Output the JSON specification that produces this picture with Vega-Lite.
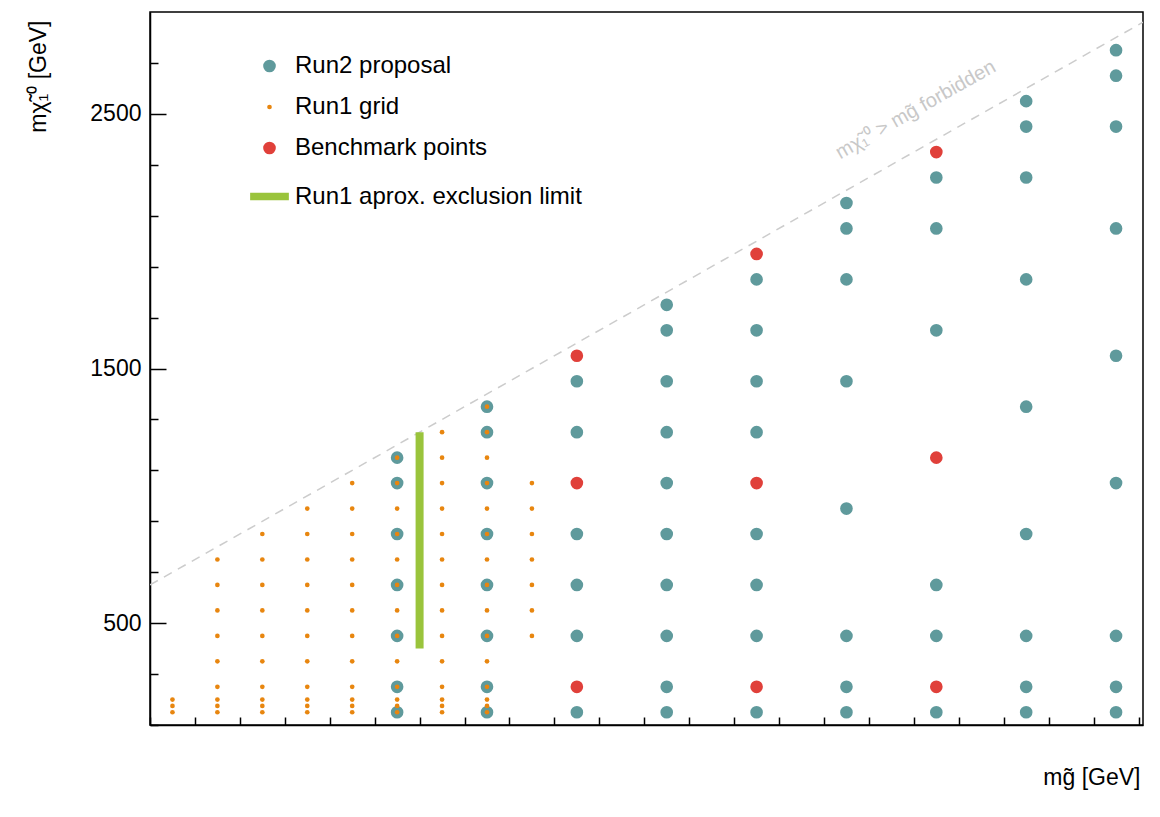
{
  "$schema": "https://vega.github.io/schema/vega-lite/v6.json",
  "width": 993,
  "height": 713,
  "autosize": {"type": "none"},
  "padding": {"left": 150, "top": 12, "right": 17, "bottom": 92},
  "background": "white",
  "config": {
    "view": {"stroke": "black", "strokeWidth": 1.5},
    "font": "Liberation Sans",
    "axis": {"domainColor": "black", "tickColor": "black", "labelColor": "black", "titleColor": "black",
      "labelFont": "Liberation Sans", "titleFont": "Liberation Sans", "labelFontSize": 23, "titleFontSize": 23,
      "titleFontWeight": "normal", "grid": false, "labelOverlap": false, "tickWidth": 1.5}
  },
  "datasets": {
    "pts": [
      {"series": "Run2 proposal", "mg": 1200, "mchi": 150}, {"series": "Run2 proposal", "mg": 1200, "mchi": 250}, {"series": "Run2 proposal", "mg": 1200, "mchi": 450}, {"series": "Run2 proposal", "mg": 1200, "mchi": 650}, {"series": "Run2 proposal", "mg": 1200, "mchi": 850}, {"series": "Run2 proposal", "mg": 1200, "mchi": 1050}, {"series": "Run2 proposal", "mg": 1200, "mchi": 1150},
      {"series": "Run2 proposal", "mg": 1400, "mchi": 150}, {"series": "Run2 proposal", "mg": 1400, "mchi": 250}, {"series": "Run2 proposal", "mg": 1400, "mchi": 450}, {"series": "Run2 proposal", "mg": 1400, "mchi": 650}, {"series": "Run2 proposal", "mg": 1400, "mchi": 850}, {"series": "Run2 proposal", "mg": 1400, "mchi": 1050}, {"series": "Run2 proposal", "mg": 1400, "mchi": 1250}, {"series": "Run2 proposal", "mg": 1400, "mchi": 1350},
      {"series": "Run2 proposal", "mg": 1600, "mchi": 150}, {"series": "Run2 proposal", "mg": 1600, "mchi": 450}, {"series": "Run2 proposal", "mg": 1600, "mchi": 650}, {"series": "Run2 proposal", "mg": 1600, "mchi": 850}, {"series": "Run2 proposal", "mg": 1600, "mchi": 1250}, {"series": "Run2 proposal", "mg": 1600, "mchi": 1450},
      {"series": "Run2 proposal", "mg": 1800, "mchi": 150}, {"series": "Run2 proposal", "mg": 1800, "mchi": 250}, {"series": "Run2 proposal", "mg": 1800, "mchi": 450}, {"series": "Run2 proposal", "mg": 1800, "mchi": 650}, {"series": "Run2 proposal", "mg": 1800, "mchi": 850}, {"series": "Run2 proposal", "mg": 1800, "mchi": 1050}, {"series": "Run2 proposal", "mg": 1800, "mchi": 1250}, {"series": "Run2 proposal", "mg": 1800, "mchi": 1450}, {"series": "Run2 proposal", "mg": 1800, "mchi": 1650}, {"series": "Run2 proposal", "mg": 1800, "mchi": 1750},
      {"series": "Run2 proposal", "mg": 2000, "mchi": 150}, {"series": "Run2 proposal", "mg": 2000, "mchi": 450}, {"series": "Run2 proposal", "mg": 2000, "mchi": 650}, {"series": "Run2 proposal", "mg": 2000, "mchi": 850}, {"series": "Run2 proposal", "mg": 2000, "mchi": 1250}, {"series": "Run2 proposal", "mg": 2000, "mchi": 1450}, {"series": "Run2 proposal", "mg": 2000, "mchi": 1650}, {"series": "Run2 proposal", "mg": 2000, "mchi": 1850},
      {"series": "Run2 proposal", "mg": 2200, "mchi": 150}, {"series": "Run2 proposal", "mg": 2200, "mchi": 250}, {"series": "Run2 proposal", "mg": 2200, "mchi": 450}, {"series": "Run2 proposal", "mg": 2200, "mchi": 950}, {"series": "Run2 proposal", "mg": 2200, "mchi": 1450}, {"series": "Run2 proposal", "mg": 2200, "mchi": 1850}, {"series": "Run2 proposal", "mg": 2200, "mchi": 2050}, {"series": "Run2 proposal", "mg": 2200, "mchi": 2150},
      {"series": "Run2 proposal", "mg": 2400, "mchi": 150}, {"series": "Run2 proposal", "mg": 2400, "mchi": 450}, {"series": "Run2 proposal", "mg": 2400, "mchi": 650}, {"series": "Run2 proposal", "mg": 2400, "mchi": 1650}, {"series": "Run2 proposal", "mg": 2400, "mchi": 2050}, {"series": "Run2 proposal", "mg": 2400, "mchi": 2250},
      {"series": "Run2 proposal", "mg": 2600, "mchi": 150}, {"series": "Run2 proposal", "mg": 2600, "mchi": 250}, {"series": "Run2 proposal", "mg": 2600, "mchi": 450}, {"series": "Run2 proposal", "mg": 2600, "mchi": 850}, {"series": "Run2 proposal", "mg": 2600, "mchi": 1350}, {"series": "Run2 proposal", "mg": 2600, "mchi": 1850}, {"series": "Run2 proposal", "mg": 2600, "mchi": 2250}, {"series": "Run2 proposal", "mg": 2600, "mchi": 2450}, {"series": "Run2 proposal", "mg": 2600, "mchi": 2550},
      {"series": "Run2 proposal", "mg": 2800, "mchi": 150}, {"series": "Run2 proposal", "mg": 2800, "mchi": 250}, {"series": "Run2 proposal", "mg": 2800, "mchi": 450}, {"series": "Run2 proposal", "mg": 2800, "mchi": 1050}, {"series": "Run2 proposal", "mg": 2800, "mchi": 1550}, {"series": "Run2 proposal", "mg": 2800, "mchi": 2050}, {"series": "Run2 proposal", "mg": 2800, "mchi": 2450}, {"series": "Run2 proposal", "mg": 2800, "mchi": 2650}, {"series": "Run2 proposal", "mg": 2800, "mchi": 2750},

      {"series": "Run1 grid", "mg": 700, "mchi": 150}, {"series": "Run1 grid", "mg": 700, "mchi": 175}, {"series": "Run1 grid", "mg": 700, "mchi": 200},
      {"series": "Run1 grid", "mg": 800, "mchi": 150}, {"series": "Run1 grid", "mg": 800, "mchi": 175}, {"series": "Run1 grid", "mg": 800, "mchi": 200}, {"series": "Run1 grid", "mg": 800, "mchi": 250}, {"series": "Run1 grid", "mg": 800, "mchi": 350}, {"series": "Run1 grid", "mg": 800, "mchi": 450}, {"series": "Run1 grid", "mg": 800, "mchi": 550}, {"series": "Run1 grid", "mg": 800, "mchi": 650}, {"series": "Run1 grid", "mg": 800, "mchi": 750},
      {"series": "Run1 grid", "mg": 900, "mchi": 150}, {"series": "Run1 grid", "mg": 900, "mchi": 175}, {"series": "Run1 grid", "mg": 900, "mchi": 200}, {"series": "Run1 grid", "mg": 900, "mchi": 250}, {"series": "Run1 grid", "mg": 900, "mchi": 350}, {"series": "Run1 grid", "mg": 900, "mchi": 450}, {"series": "Run1 grid", "mg": 900, "mchi": 550}, {"series": "Run1 grid", "mg": 900, "mchi": 650}, {"series": "Run1 grid", "mg": 900, "mchi": 750}, {"series": "Run1 grid", "mg": 900, "mchi": 850},
      {"series": "Run1 grid", "mg": 1000, "mchi": 150}, {"series": "Run1 grid", "mg": 1000, "mchi": 175}, {"series": "Run1 grid", "mg": 1000, "mchi": 200}, {"series": "Run1 grid", "mg": 1000, "mchi": 250}, {"series": "Run1 grid", "mg": 1000, "mchi": 350}, {"series": "Run1 grid", "mg": 1000, "mchi": 450}, {"series": "Run1 grid", "mg": 1000, "mchi": 550}, {"series": "Run1 grid", "mg": 1000, "mchi": 650}, {"series": "Run1 grid", "mg": 1000, "mchi": 750}, {"series": "Run1 grid", "mg": 1000, "mchi": 850}, {"series": "Run1 grid", "mg": 1000, "mchi": 950},
      {"series": "Run1 grid", "mg": 1100, "mchi": 150}, {"series": "Run1 grid", "mg": 1100, "mchi": 175}, {"series": "Run1 grid", "mg": 1100, "mchi": 200}, {"series": "Run1 grid", "mg": 1100, "mchi": 250}, {"series": "Run1 grid", "mg": 1100, "mchi": 350}, {"series": "Run1 grid", "mg": 1100, "mchi": 450}, {"series": "Run1 grid", "mg": 1100, "mchi": 550}, {"series": "Run1 grid", "mg": 1100, "mchi": 650}, {"series": "Run1 grid", "mg": 1100, "mchi": 750}, {"series": "Run1 grid", "mg": 1100, "mchi": 850}, {"series": "Run1 grid", "mg": 1100, "mchi": 950}, {"series": "Run1 grid", "mg": 1100, "mchi": 1050},
      {"series": "Run1 grid", "mg": 1200, "mchi": 150}, {"series": "Run1 grid", "mg": 1200, "mchi": 175}, {"series": "Run1 grid", "mg": 1200, "mchi": 200}, {"series": "Run1 grid", "mg": 1200, "mchi": 250}, {"series": "Run1 grid", "mg": 1200, "mchi": 350}, {"series": "Run1 grid", "mg": 1200, "mchi": 450}, {"series": "Run1 grid", "mg": 1200, "mchi": 550}, {"series": "Run1 grid", "mg": 1200, "mchi": 650}, {"series": "Run1 grid", "mg": 1200, "mchi": 750}, {"series": "Run1 grid", "mg": 1200, "mchi": 850}, {"series": "Run1 grid", "mg": 1200, "mchi": 950}, {"series": "Run1 grid", "mg": 1200, "mchi": 1050}, {"series": "Run1 grid", "mg": 1200, "mchi": 1150},
      {"series": "Run1 grid", "mg": 1300, "mchi": 150}, {"series": "Run1 grid", "mg": 1300, "mchi": 175}, {"series": "Run1 grid", "mg": 1300, "mchi": 200}, {"series": "Run1 grid", "mg": 1300, "mchi": 250}, {"series": "Run1 grid", "mg": 1300, "mchi": 350}, {"series": "Run1 grid", "mg": 1300, "mchi": 450}, {"series": "Run1 grid", "mg": 1300, "mchi": 550}, {"series": "Run1 grid", "mg": 1300, "mchi": 650}, {"series": "Run1 grid", "mg": 1300, "mchi": 750}, {"series": "Run1 grid", "mg": 1300, "mchi": 850}, {"series": "Run1 grid", "mg": 1300, "mchi": 950}, {"series": "Run1 grid", "mg": 1300, "mchi": 1050}, {"series": "Run1 grid", "mg": 1300, "mchi": 1150}, {"series": "Run1 grid", "mg": 1300, "mchi": 1250},
      {"series": "Run1 grid", "mg": 1400, "mchi": 150}, {"series": "Run1 grid", "mg": 1400, "mchi": 175}, {"series": "Run1 grid", "mg": 1400, "mchi": 200}, {"series": "Run1 grid", "mg": 1400, "mchi": 250}, {"series": "Run1 grid", "mg": 1400, "mchi": 350}, {"series": "Run1 grid", "mg": 1400, "mchi": 450}, {"series": "Run1 grid", "mg": 1400, "mchi": 550}, {"series": "Run1 grid", "mg": 1400, "mchi": 650}, {"series": "Run1 grid", "mg": 1400, "mchi": 750}, {"series": "Run1 grid", "mg": 1400, "mchi": 850}, {"series": "Run1 grid", "mg": 1400, "mchi": 950}, {"series": "Run1 grid", "mg": 1400, "mchi": 1050}, {"series": "Run1 grid", "mg": 1400, "mchi": 1150}, {"series": "Run1 grid", "mg": 1400, "mchi": 1250}, {"series": "Run1 grid", "mg": 1400, "mchi": 1350},
      {"series": "Run1 grid", "mg": 1500, "mchi": 450}, {"series": "Run1 grid", "mg": 1500, "mchi": 550}, {"series": "Run1 grid", "mg": 1500, "mchi": 650}, {"series": "Run1 grid", "mg": 1500, "mchi": 750}, {"series": "Run1 grid", "mg": 1500, "mchi": 850}, {"series": "Run1 grid", "mg": 1500, "mchi": 950}, {"series": "Run1 grid", "mg": 1500, "mchi": 1050},

      {"series": "Benchmark points", "mg": 1600, "mchi": 250}, {"series": "Benchmark points", "mg": 1600, "mchi": 1050}, {"series": "Benchmark points", "mg": 1600, "mchi": 1550},
      {"series": "Benchmark points", "mg": 2000, "mchi": 250}, {"series": "Benchmark points", "mg": 2000, "mchi": 1050}, {"series": "Benchmark points", "mg": 2000, "mchi": 1950},
      {"series": "Benchmark points", "mg": 2400, "mchi": 250}, {"series": "Benchmark points", "mg": 2400, "mchi": 1150}, {"series": "Benchmark points", "mg": 2400, "mchi": 2350}
    ]
  },
  "layer": [
    {
      "data": {"values": [{"mg": 650, "mchi": 650}, {"mg": 2860, "mchi": 2860}]},
      "mark": {"type": "line", "color": "#cccccc", "strokeWidth": 1.5, "strokeDash": [9, 7], "clip": true},
      "encoding": {
        "x": {"field": "mg", "type": "quantitative",
          "scale": {"domain": [650, 2860], "nice": false, "zero": false},
          "axis": {"values": [650,700,750,800,850,900,950,1000,1050,1100,1150,1200,1250,1300,1350,1400,1450,1500,1550,1600,1650,1700,1750,1800,1850,1900,1950,2000,2050,2100,2150,2200,2250,2300,2350,2400,2450,2500,2550,2600,2650,2700,2750,2800,2850],
            "tickSize": {"condition": {"test": "datum.value % 200 === 0", "value": -16}, "value": -8},
            "labelExpr": "datum.value % 200 === 0 ? datum.label : ''", "format": "d",
            "labelOverlap": false, "labelPadding": 25, "domainWidth": 1.5,
            "title": "mg̃ [GeV]", "titleAnchor": "end", "titleAlign": "right", "titleX": 990, "titleY": 52, "titleBaseline": "middle"}},
        "y": {"field": "mchi", "type": "quantitative",
          "scale": {"domain": [100, 2900], "nice": false, "zero": false},
          "axis": {"values": [100,200,300,400,500,600,700,800,900,1000,1100,1200,1300,1400,1500,1600,1700,1800,1900,2000,2100,2200,2300,2400,2500,2600,2700,2800],
            "tickSize": {"condition": {"test": "datum.value % 500 === 0", "value": -16}, "value": -8},
            "labelExpr": "datum.value % 500 === 0 ? datum.label : ''", "format": "d",
            "labelOverlap": false, "labelPadding": 25, "domainWidth": 1.5,
            "title": "mχ̃₁⁰ [GeV]", "titleAngle": 270, "titleAlign": "right", "titleBaseline": "middle", "titleX": -112, "titleY": 8}}
      }
    },
    {
      "data": {"values": [{"mg": 1250, "lo": 400, "hi": 1250}]},
      "mark": {"type": "rule", "color": "#9ac43c", "strokeWidth": 8},
      "encoding": {
        "x": {"field": "mg", "type": "quantitative"},
        "y": {"field": "lo", "type": "quantitative"},
        "y2": {"field": "hi"}
      }
    },
    {
      "data": {"name": "pts"},
      "mark": {"type": "point", "filled": true, "opacity": 1},
      "encoding": {
        "x": {"field": "mg", "type": "quantitative"},
        "y": {"field": "mchi", "type": "quantitative"},
        "color": {"field": "series", "type": "nominal",
          "scale": {"domain": ["Run2 proposal", "Run1 grid", "Benchmark points", "Run1 aprox. exclusion limit"], "range": ["#5f9a9c", "#e8860f", "#e0403a", "#9ac43c"]},
          "legend": {"title": null, "orient": "none", "legendX": 100, "legendY": 42, "labelFontSize": 24, "labelFont": "Liberation Sans", "labelColor": "black", "labelLimit": 0, "rowPadding": 17, "labelOffset": 6, "padding": 0, "symbolStrokeWidth": 0}},
        "shape": {"field": "series", "type": "nominal",
          "scale": {"domain": ["Run2 proposal", "Run1 grid", "Benchmark points", "Run1 aprox. exclusion limit"], "range": ["circle", "circle", "circle", "M-1,-0.2H1V0.2H-1Z"]}},
        "size": {"field": "series", "type": "nominal",
          "scale": {"type": "ordinal", "domain": ["Run2 proposal", "Run1 grid", "Benchmark points", "Run1 aprox. exclusion limit"], "range": [160, 22, 160, 1500]}}
      }
    },
    {
      "data": {"values": [{"mg": 2354, "mchi": 2516, "label": "mχ̃₁⁰ > mg̃ forbidden"}]},
      "mark": {"type": "text", "angle": 330.4, "fontSize": 20, "color": "#c8c8c8", "font": "Liberation Sans", "align": "center", "baseline": "middle"},
      "encoding": {
        "x": {"field": "mg", "type": "quantitative"},
        "y": {"field": "mchi", "type": "quantitative"},
        "text": {"field": "label"}
      }
    }
  ]
}
